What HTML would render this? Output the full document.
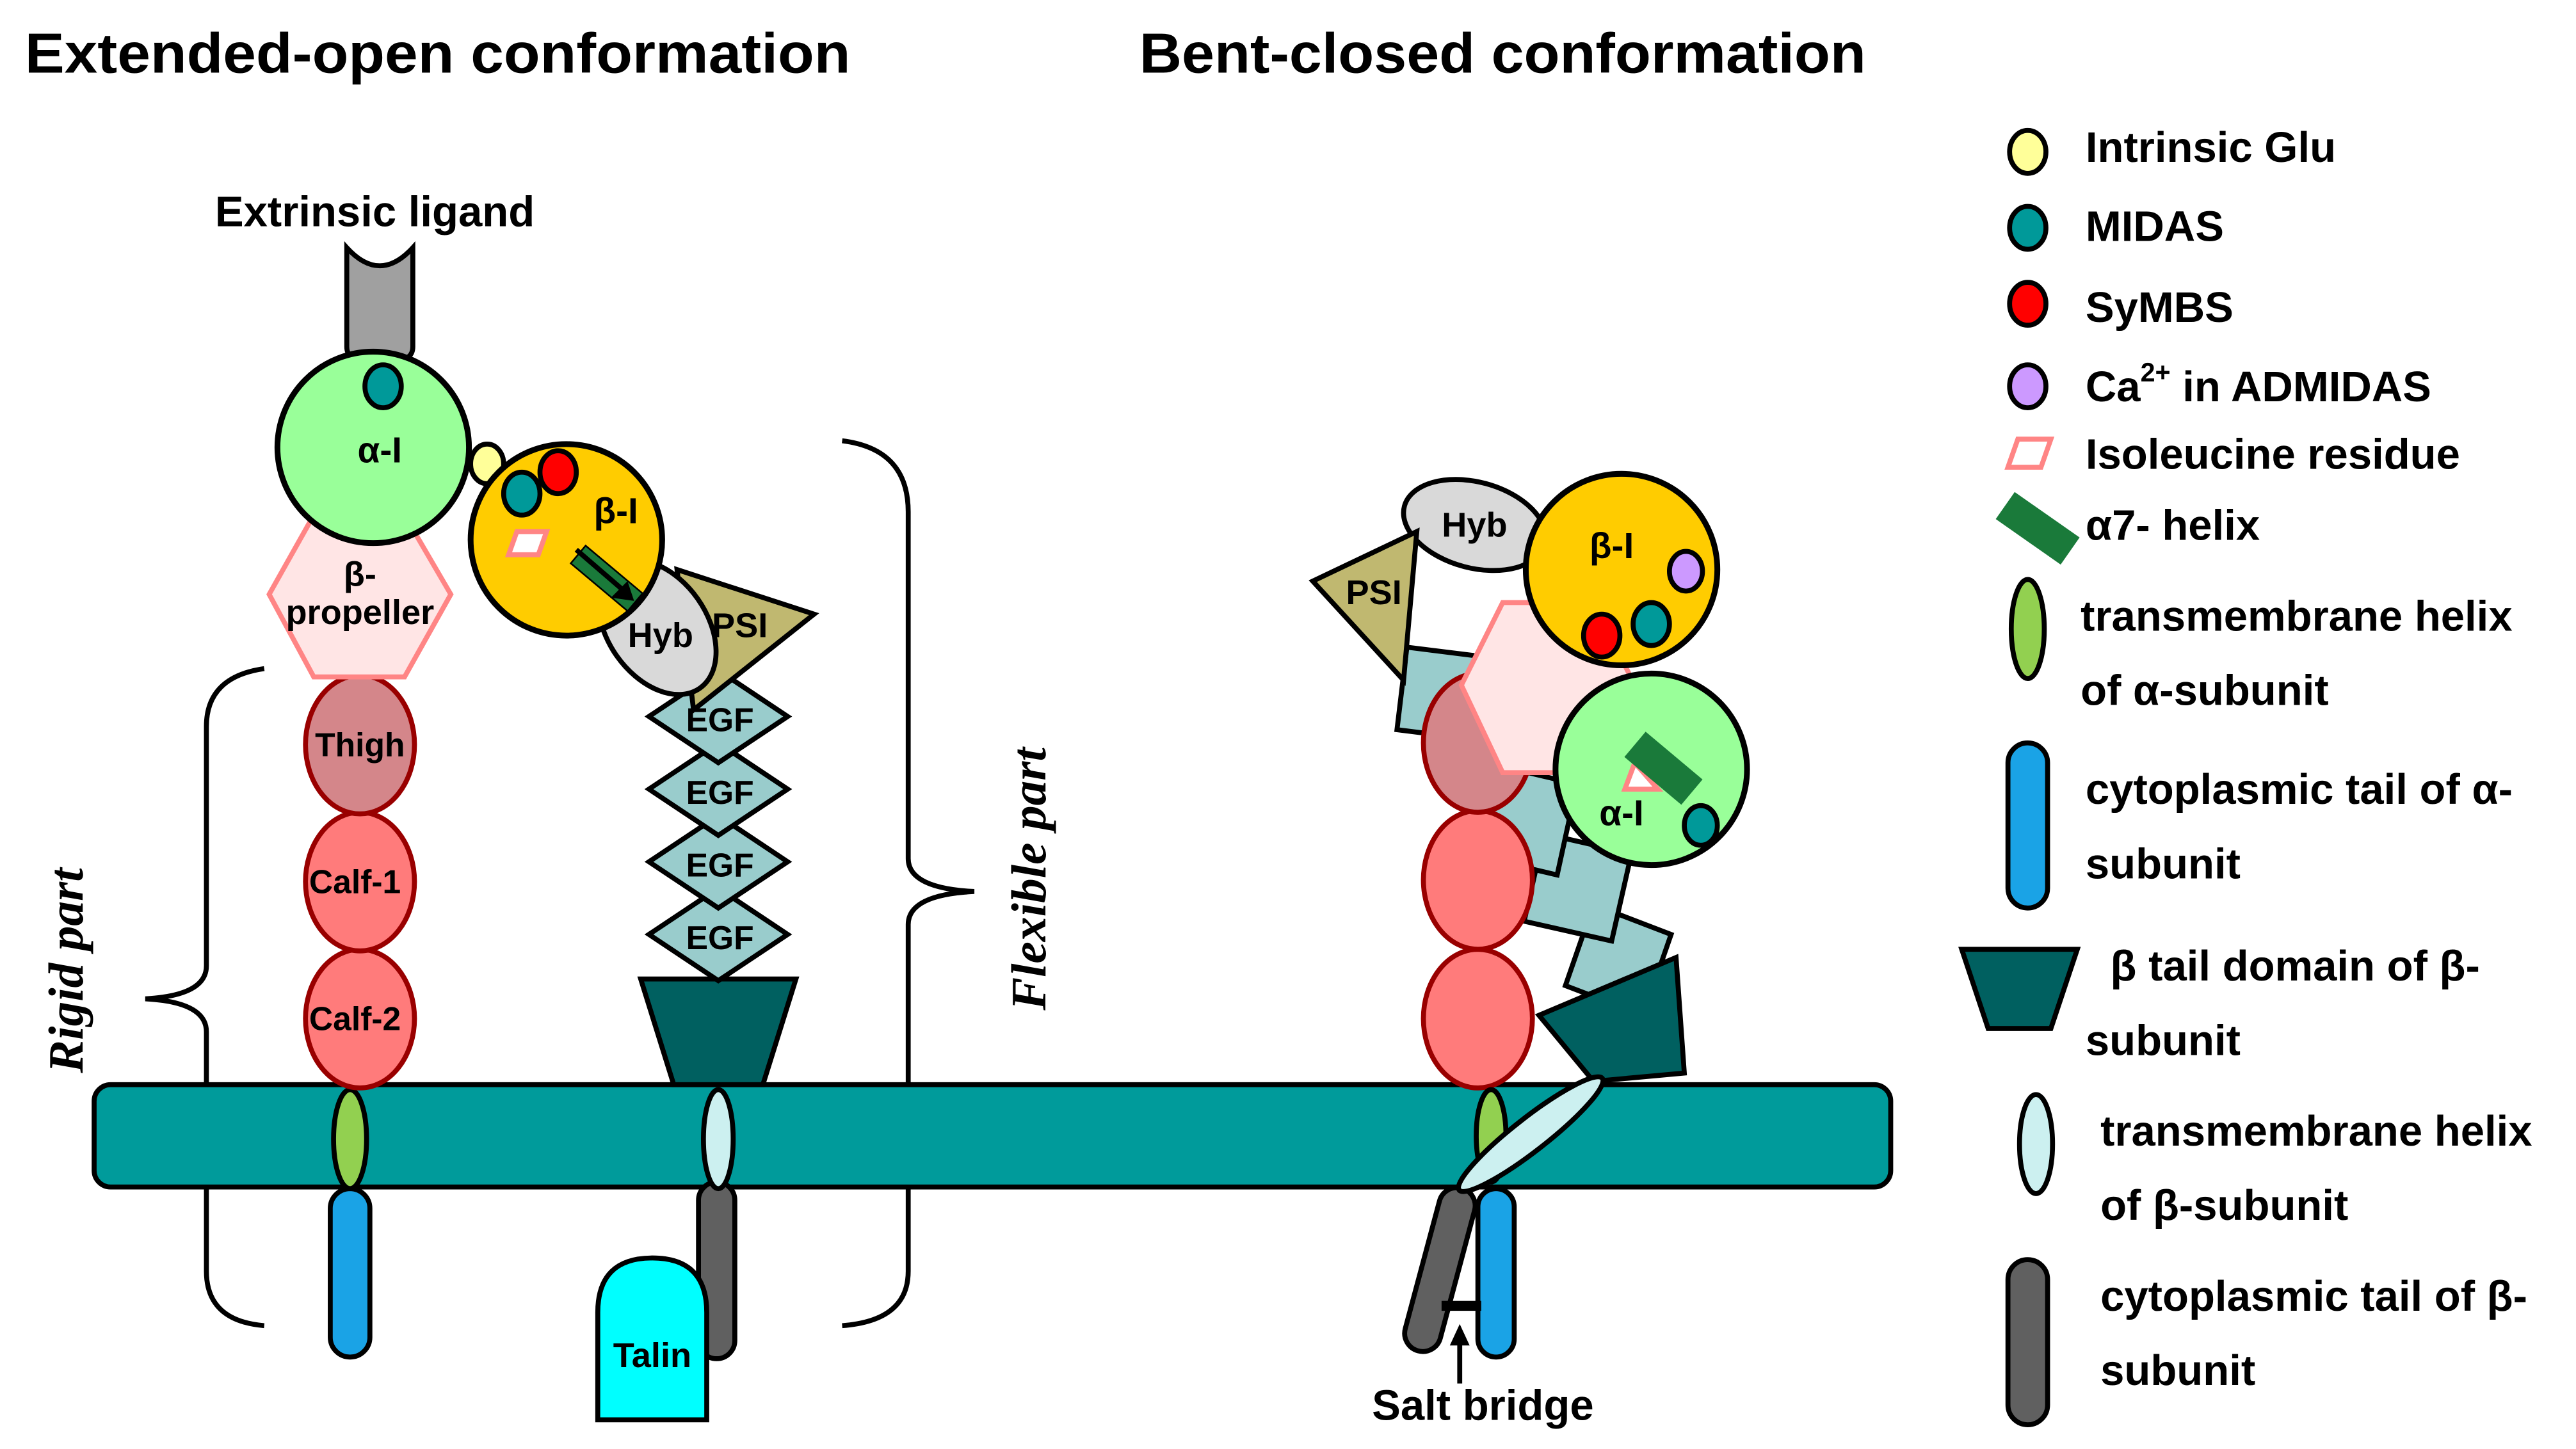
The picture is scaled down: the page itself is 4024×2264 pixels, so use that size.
<!DOCTYPE html>
<html><head><meta charset="utf-8"><style>html,body{margin:0;padding:0;background:#fff}svg{display:block}</style></head>
<body>
<svg width="4024" height="2264" viewBox="0 0 1560 877.7" xmlns="http://www.w3.org/2000/svg" font-family="Liberation Sans, sans-serif" font-weight="bold">
<rect width="1560" height="878" fill="#fff"/>
<text x="15" y="44" font-size="34" textLength="500" lengthAdjust="spacingAndGlyphs">Extended-open conformation</text>
<text x="690" y="44" font-size="34" textLength="440" lengthAdjust="spacingAndGlyphs">Bent-closed conformation</text>

<!-- braces -->
<path d="M160,405 Q125,410 125,440 L125,585 Q125,603 88,605 Q125,607 125,625 L125,770 Q125,800 160,803" fill="none" stroke="#000" stroke-width="3"/>
<path d="M510,267 Q550,272 550,310 L550,520 Q550,538 590,540 Q550,542 550,560 L550,770 Q550,800 510,803" fill="none" stroke="#000" stroke-width="3"/>
<text transform="translate(50,650) rotate(-90)" font-family="Liberation Serif, serif" font-style="italic" font-size="30">Rigid part</text>
<text transform="translate(633,612) rotate(-90)" font-family="Liberation Serif, serif" font-style="italic" font-size="30">Flexible part</text>

<!-- membrane -->
<rect x="57" y="657" width="1088" height="62" rx="10" fill="#009b9b" stroke="#000" stroke-width="3"/>

<!-- LEFT alpha -->
<rect x="200" y="720" width="24" height="102" rx="12" fill="#1aa3e6" stroke="#000" stroke-width="3"/>
<ellipse cx="212" cy="690" rx="10" ry="30" fill="#92d050" stroke="#000" stroke-width="3"/>
<ellipse cx="218" cy="617" rx="33" ry="42" fill="#ff7b7b" stroke="#900" stroke-width="3"/>
<ellipse cx="218" cy="534" rx="33" ry="42" fill="#ff7b7b" stroke="#900" stroke-width="3"/>
<ellipse cx="218" cy="451" rx="33" ry="42" fill="#d4868a" stroke="#900" stroke-width="3"/>
<text x="218" y="458" font-size="20" text-anchor="middle">Thigh</text>
<text x="215" y="541" font-size="20" text-anchor="middle">Calf-1</text>
<text x="215" y="624" font-size="20" text-anchor="middle">Calf-2</text>
<polygon points="163,360 190,312 245,312 273,360 245,410 190,410" fill="#ffe5e5" stroke="#ff8585" stroke-width="3"/>
<text x="218" y="355" font-size="21" text-anchor="middle">β-</text>
<text x="218" y="378" font-size="21" text-anchor="middle">propeller</text>
<path d="M210,150 Q230,172 250,150 L250,210 Q250,218 240,218 L220,218 Q210,218 210,210 Z" fill="#a0a0a0" stroke="#000" stroke-width="3"/>
<text x="227" y="137" font-size="26" text-anchor="middle">Extrinsic ligand</text>
<circle cx="226" cy="271" r="58" fill="#99ff99" stroke="#000" stroke-width="3.5"/>
<ellipse cx="232" cy="234" rx="11" ry="13" fill="#009999" stroke="#000" stroke-width="3"/>
<text x="230" y="280" font-size="22" text-anchor="middle">α-I</text>
<ellipse cx="295" cy="281" rx="10" ry="12" fill="#ffff99" stroke="#000" stroke-width="3"/>

<!-- LEFT beta -->
<rect x="423" y="716" width="22" height="107" rx="11" fill="#606060" stroke="#000" stroke-width="3"/>
<ellipse cx="435" cy="690" rx="9" ry="30" fill="#ccf0f0" stroke="#000" stroke-width="3"/>
<path d="M362,860 L362,795 Q362,762 395,762 Q428,762 428,795 L428,860 Z" fill="#00ffff" stroke="#000" stroke-width="3"/>
<text x="395" y="828" font-size="21" text-anchor="middle">Talin</text>
<polygon points="388,593 482,593 462,657 408,657" fill="#006060" stroke="#000" stroke-width="3"/>
<g fill="#99cccc" stroke="#000" stroke-width="3" font-size="20">
<polygon points="435,538 477,566 435,594 393,566"/>
<polygon points="435,494 477,522 435,550 393,522"/>
<polygon points="435,450 477,478 435,506 393,478"/>
<polygon points="435,406 477,434 435,462 393,434"/>
</g>
<g font-size="20" text-anchor="middle">
<text x="436" y="443">EGF</text><text x="436" y="487">EGF</text><text x="436" y="531">EGF</text><text x="436" y="575">EGF</text>
</g>
<polygon points="410,345 493,372 420,430" fill="#c0b870" stroke="#000" stroke-width="3"/>
<ellipse cx="398" cy="380" rx="30" ry="45" transform="rotate(-35 398 380)" fill="#d9d9d9" stroke="#000" stroke-width="3"/>
<text x="400" y="392" font-size="21" text-anchor="middle">Hyb</text>
<text x="448" y="386" font-size="21" text-anchor="middle">PSI</text>
<circle cx="343" cy="327" r="58" fill="#ffcc00" stroke="#000" stroke-width="3.5"/>
<ellipse cx="316" cy="299" rx="11" ry="13" fill="#009999" stroke="#000" stroke-width="3"/>
<ellipse cx="338" cy="286" rx="11" ry="13" fill="#ff0000" stroke="#000" stroke-width="3"/>
<polygon points="313,322 331,322 326,336 308,336" fill="#fff" stroke="#ff8585" stroke-width="3"/>
<rect x="345" y="343" width="45" height="14" transform="rotate(40 367 350)" fill="#1a7a3a" stroke="#000" stroke-width="1"/>
<path d="M349,333 L378,358" stroke="#000" stroke-width="3"/>
<polygon points="384,364 370,362 380,352" fill="#000"/>
<text x="373" y="317" font-size="22" text-anchor="middle">β-I</text>

<!-- RIGHT -->
<g fill="#99cccc" stroke="#000" stroke-width="3">
<polygon points="965,548 1012,566 995,615 948,597" />
<polygon points="935,505 988,517 976,570 923,558"/>
<polygon points="900,462 955,475 943,530 888,517"/>
<polygon points="852,392 900,398 894,448 846,442"/>
</g>
<polygon points="932,615 1015,580 1020,650 965,655" fill="#006060" stroke="#000" stroke-width="3"/>
<ellipse cx="895" cy="617" rx="33" ry="42" fill="#ff7b7b" stroke="#900" stroke-width="3"/>
<ellipse cx="895" cy="533" rx="33" ry="42" fill="#ff7b7b" stroke="#900" stroke-width="3"/>
<ellipse cx="895" cy="450" rx="33" ry="42" fill="#d4868a" stroke="#900" stroke-width="3"/>
<polygon points="885,415 910,365 965,365 990,415 965,468 910,468" fill="#ffe5e5" stroke="#ff8585" stroke-width="3"/>
<ellipse cx="893" cy="318" rx="44" ry="26" transform="rotate(15 893 318)" fill="#d9d9d9" stroke="#000" stroke-width="3"/>
<polygon points="795,352 858,322 850,412" fill="#c0b870" stroke="#000" stroke-width="3"/>
<text x="893" y="325" font-size="21" text-anchor="middle">Hyb</text>
<text x="832" y="366" font-size="21" text-anchor="middle">PSI</text>
<circle cx="982" cy="345" r="58" fill="#ffcc00" stroke="#000" stroke-width="3.5"/>
<ellipse cx="1021" cy="346" rx="10" ry="12" fill="#cc99ff" stroke="#000" stroke-width="3"/>
<ellipse cx="1000" cy="378" rx="11" ry="13" fill="#009999" stroke="#000" stroke-width="3"/>
<ellipse cx="970" cy="385" rx="11" ry="13" fill="#ff0000" stroke="#000" stroke-width="3"/>
<text x="976" y="338" font-size="22" text-anchor="middle">β-I</text>
<circle cx="1000" cy="466" r="58" fill="#99ff99" stroke="#000" stroke-width="3.5"/>
<polygon points="990,462 1004,478 984,478" fill="#fff" stroke="#ff8585" stroke-width="3"/>
<rect x="985" y="455" width="45" height="20" transform="rotate(40 1007 465)" fill="#1a7a3a"/>
<ellipse cx="1030" cy="500" rx="10" ry="12" fill="#009999" stroke="#000" stroke-width="3"/>
<text x="982" y="500" font-size="22" text-anchor="middle">α-I</text>
<rect x="895" y="720" width="22" height="102" rx="11" fill="#1aa3e6" stroke="#000" stroke-width="3"/>
<rect x="861" y="718" width="22" height="102" rx="11" transform="rotate(15 872 769)" fill="#606060" stroke="#000" stroke-width="3"/>
<ellipse cx="903" cy="688" rx="9" ry="28" fill="#92d050" stroke="#000" stroke-width="3"/>
<ellipse cx="927" cy="687" rx="55" ry="10" transform="rotate(-38 927 687)" fill="#ccf0f0" stroke="#000" stroke-width="3"/>
<rect x="873" y="788" width="24" height="6" fill="#000"/>
<path d="M884,838 L884,812" stroke="#000" stroke-width="3"/>
<polygon points="884,802 878,815 890,815" fill="#000"/>
<text x="898" y="860" font-size="26" text-anchor="middle">Salt bridge</text>

<!-- LEGEND -->
<g stroke="#000" stroke-width="3">
<ellipse cx="1228" cy="92" rx="11" ry="13" fill="#ffff99"/>
<ellipse cx="1228" cy="138" rx="11" ry="13" fill="#009999"/>
<ellipse cx="1228" cy="184" rx="11" ry="13" fill="#ff0000"/>
<ellipse cx="1228" cy="234" rx="11" ry="13" fill="#cc99ff"/>
<polygon points="1222,266 1242,266 1236,283 1216,283" fill="#fff" stroke="#ff8585"/>
<rect x="1210" y="310" width="48" height="20" transform="rotate(35 1234 320)" fill="#1a7a3a" stroke="none"/>
<ellipse cx="1228" cy="381" rx="10" ry="30" fill="#92d050"/>
<rect x="1216" y="450" width="24" height="100" rx="12" fill="#1aa3e6"/>
<polygon points="1188,575 1258,575 1242,623 1204,623" fill="#006060"/>
<ellipse cx="1233" cy="693" rx="10" ry="30" fill="#ccf0f0"/>
<rect x="1216" y="763" width="24" height="100" rx="12" fill="#606060"/>
</g>
<g font-size="26">
<text x="1263" y="98">Intrinsic Glu</text>
<text x="1263" y="146">MIDAS</text>
<text x="1263" y="195">SyMBS</text>
<text x="1263" y="243">Ca<tspan font-size="16" dy="-12">2+</tspan><tspan dy="12"> in ADMIDAS</tspan></text>
<text x="1263" y="284">Isoleucine residue</text>
<text x="1263" y="327">α7- helix</text>
<text x="1260" y="382">transmembrane helix</text>
<text x="1260" y="427">of α-subunit</text>
<text x="1263" y="487">cytoplasmic tail of α-</text>
<text x="1263" y="532">subunit</text>
<text x="1278" y="594">β tail domain of β-</text>
<text x="1263" y="639">subunit</text>
<text x="1272" y="694">transmembrane helix</text>
<text x="1272" y="739">of β-subunit</text>
<text x="1272" y="794">cytoplasmic tail of β-</text>
<text x="1272" y="839">subunit</text>
</g>
</svg>
</body></html>
